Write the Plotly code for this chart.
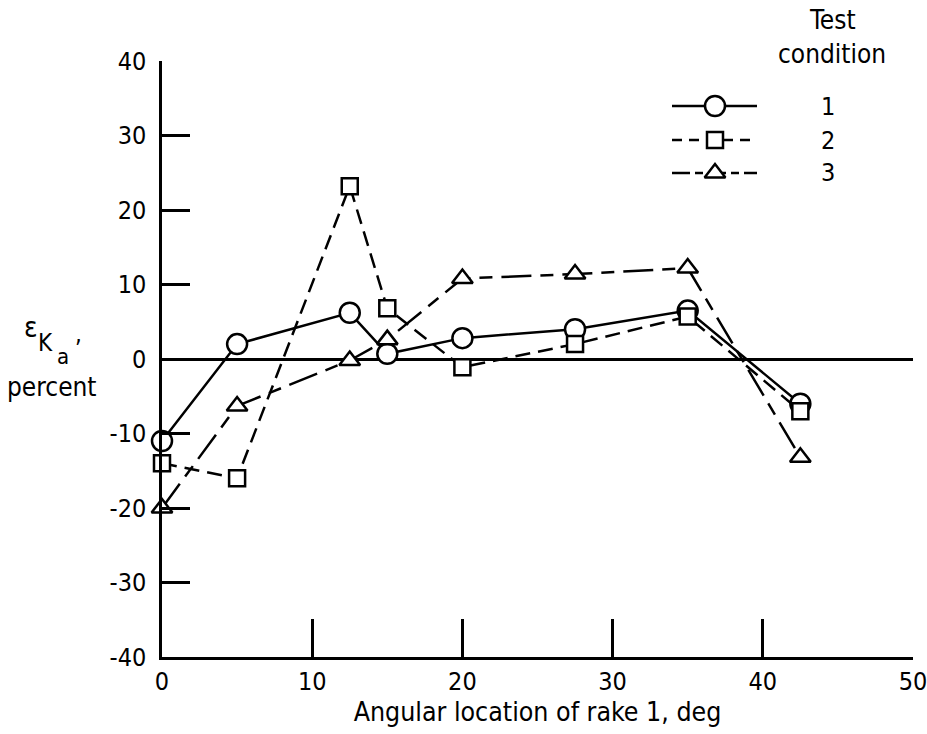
import plotly.graph_objects as go

# ---- data ----
angles = [0, 5, 12.5, 15, 20, 27.5, 35, 42.5]
cond1 = [-11, 2, 6.2, 0.7, 2.8, 4, 6.5, -6]
cond2 = [-14, -16, 23.2, 6.8, -1.1, 2, 5.7, -7]
cond3 = [-20, -6.3, -0.2, 2.6, 10.8, 11.4, 12.2, -13.2]
x_ticks = [0, 10, 20, 30, 40, 50]
y_ticks = [-40, -30, -20, -10, 0, 10, 20, 30, 40]
legend_labels = ["1", "2", "3"]

W, H = 927, 734
ML, MT = 162, 61
MR = W - 913
MB = H - 657
FONT = "DejaVu Sans Condensed, Liberation Sans Narrow, DejaVu Sans, sans-serif"


def px(sx):
    return (sx - ML) / (W - ML - MR)


def py(sy):
    return 1 - (sy - MT) / (H - MT - MB)


def note(sx, sy, text, size):
    fig.add_annotation(x=px(sx), y=py(sy), xref="paper", yref="paper",
                       xanchor="center", yanchor="middle",
                       text=text, showarrow=False,
                       font=dict(size=size, family=FONT, color="black"))


fig = go.Figure()

styles = [
    dict(y=cond1, dash="solid", ldash="solid", symbol="circle", size=20),
    dict(y=cond2, dash="15px,8px", ldash="10px,7px", symbol="square", size=16),
    dict(y=cond3, dash="30px,9px,13px,9px", ldash="18px,5px,8px,5px", symbol="triangle-up", size=18),
]
for s, lab in zip(styles, legend_labels):
    fig.add_trace(go.Scatter(
        x=angles, y=s["y"], mode="lines+markers", name=lab,
        line=dict(color="black", width=2.5, dash=s["dash"]),
        marker=dict(symbol=s["symbol"], size=s["size"], color="white",
                    line=dict(color="black", width=2.5)),
        cliponaxis=False, showlegend=False,
    ))

# ---- legend (drawn on a pixel-scaled overlay axis, screen coords) ----
leg_y = [106, 140, 173]
leg_x0, leg_x1, leg_xm = 672, 757, 715
for s, ly, lab in zip(styles, leg_y, legend_labels):
    fig.add_trace(go.Scatter(
        x=[leg_x0, leg_xm, leg_x1], y=[ly, ly, ly], mode="lines",
        line=dict(color="black", width=2.5, dash=s["ldash"]),
        xaxis="x2", yaxis="y2", showlegend=False, hoverinfo="skip",
    ))
    fig.add_trace(go.Scatter(
        x=[leg_xm], y=[ly], mode="markers",
        marker=dict(symbol=s["symbol"], size=s["size"], color="white",
                    line=dict(color="black", width=2.5)),
        xaxis="x2", yaxis="y2", showlegend=False, hoverinfo="skip",
    ))
    note(828, ly, lab, 25)

note(832, 20, "Test", 26)
note(832, 54, "condition", 26)

# ---- y-axis title ----
note(31, 327, "ε", 28)
note(45, 343, "K", 24)
note(63, 357, "a", 22)
note(78, 334, ",", 24)
note(52, 387, "percent", 26)

fig.update_layout(
    width=W, height=H,
    margin=dict(l=ML, r=MR, t=MT, b=MB, autoexpand=False),
    paper_bgcolor="white", plot_bgcolor="white",
    font=dict(family=FONT, color="black", size=25),
    xaxis=dict(
        range=[0, 50], tickvals=x_ticks, ticktext=[str(v) for v in x_ticks],
        showline=True, linecolor="black", linewidth=2.5,
        ticks="inside", ticklen=38, tickwidth=2.5, tickcolor="black",
        showgrid=False, zeroline=False, ticklabeloverflow="allow",
        automargin=False,
        title=dict(text="Angular location of rake 1, deg", standoff=4,
                   font=dict(size=26.5, family=FONT)),
        tickfont=dict(size=25, family=FONT),
    ),
    yaxis=dict(
        range=[-40, 40], tickvals=y_ticks, ticktext=[str(v) for v in y_ticks],
        showline=True, linecolor="black", linewidth=2.5,
        ticks="inside", ticklen=28, tickwidth=2.5, tickcolor="black",
        showgrid=False, zeroline=True, zerolinecolor="black", zerolinewidth=2.5,
        automargin=False,
        tickfont=dict(size=25, family=FONT), ticklabelstandoff=8,
    ),
    xaxis2=dict(range=[162, 913], overlaying="x", anchor="y2", visible=False),
    yaxis2=dict(range=[657, 61], overlaying="y", anchor="x2", visible=False),
)

fig.write_html("out.html", config={"displayModeBar": False},
               post_script="document.body.style.margin='0';document.body.style.overflow='hidden';")
